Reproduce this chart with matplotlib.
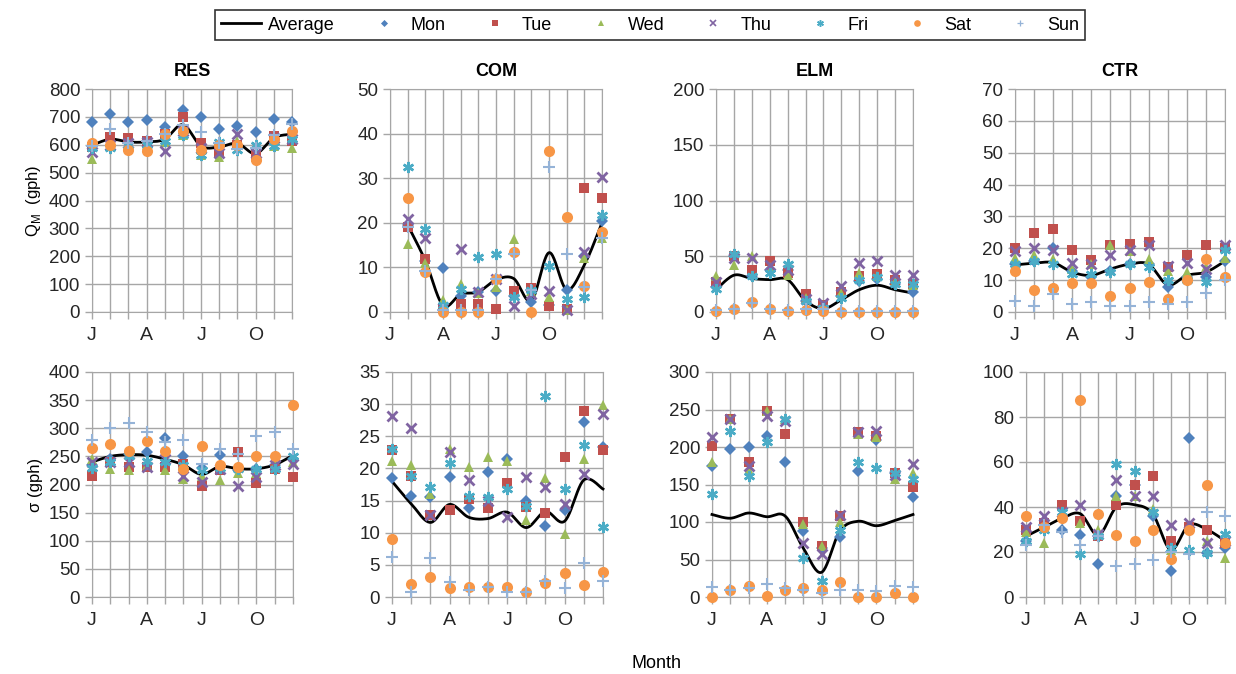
import numpy as np
import matplotlib
matplotlib.use("Agg")
import matplotlib.pyplot as plt
from matplotlib.lines import Line2D

plt.rcParams['font.family'] = ['Liberation Sans', 'DejaVu Sans']

months = np.arange(1, 13)
month_labels = ['J', '', '', 'A', '', '', 'J', '', '', 'O', '', '']
series = ['Average', 'Mon', 'Tue', 'Wed', 'Thu', 'Fri', 'Sat', 'Sun']

# rows: Average, Mon, Tue, Wed, Thu, Fri, Sat, Sun  (Jan..Dec)
res_q = [
    [598, 620, 610, 610, 620, 672, 595, 592, 605, 568, 625, 638],
    [680, 710, 680, 688, 665, 725, 698, 657, 667, 647, 693, 683],
    [592, 628, 625, 615, 640, 698, 605, 575, 600, 565, 632, 612],
    [548, 595, 600, 600, 610, 635, 565, 555, 615, 555, 595, 590],
    [575, 600, 605, 610, 578, 650, 590, 570, 640, 570, 625, 620],
    [590, 590, 600, 600, 615, 635, 565, 610, 580, 600, 595, 620],
    [605, 598, 580, 578, 640, 650, 580, 600, 600, 545, 620, 650],
    [595, 655, 605, 615, 640, 670, 645, 605, 585, 590, 635, 675],
]
com_q = [
    [19.5, 11.5, 1.5, 4.0, 4.5, 7.2, 7.5, 2.5, 13.3, 5.0, 10.5, 20.0],
    [19.5, 11.5, 9.8, 3.5, 4.5, 4.8, 3.5, 2.3, 1.5, 5.0, 12.5, 20.3],
    [19.0, 11.8, 0.9, 1.8, 1.7, 0.7, 4.8, 5.3, 1.3, 0.6, 27.7, 25.6],
    [15.3, 11.0, 2.8, 6.3, 4.3, 5.5, 16.3, 4.8, 3.3, 0.5, 12.0, 16.6],
    [20.8, 16.6, 0.9, 14.2, 4.5, 7.5, 1.3, 4.0, 4.8, 0.5, 13.4, 30.3],
    [32.6, 18.5, 1.5, 5.2, 12.3, 13.0, 3.3, 5.0, 10.3, 3.0, 3.3, 21.7],
    [25.6, 9.0, 0.0, 0.0, 0.0, 7.5, 13.4, 0.0, 36.0, 21.4, 5.8, 18.0],
    [19.0, 9.2, 0.5, 0.5, 0.5, 7.5, 12.9, 5.0, 32.5, 13.0, 5.5, 16.5],
]
elm_q = [
    [20, 33, 30, 29, 29, 10, 3, 11, 20, 24, 20, 17],
    [22, 50, 32, 38, 38, 10, 5, 14, 28, 30, 25, 18],
    [27, 50, 38, 46, 35, 16, 6, 18, 32, 34, 29, 25],
    [32, 42, 50, 40, 33, 13, 6, 17, 35, 32, 27, 24],
    [27, 48, 48, 42, 38, 12, 8, 23, 44, 46, 33, 33],
    [21, 52, 32, 35, 43, 10, 4, 13, 29, 31, 25, 25],
    [1, 3, 9, 3, 1, 2, 1, 0, 0, 0, 0, 0],
    [2, 3, 8, 3, 2, 3, 3, 1, 1, 1, 1, 1],
]
ctr_q = [
    [14.8, 15.3, 15.5, 12.5, 11.5, 13.5, 15.0, 15.0, 8.5, 11.5, 12.5, 16.0],
    [15.0, 16.0, 20.0, 13.0, 11.0, 13.0, 15.0, 15.0, 8.0, 11.0, 11.0, 16.0],
    [20.0, 24.8, 26.0, 19.5, 16.2, 21.0, 21.5, 22.0, 14.0, 18.0, 21.0, 20.0],
    [17.0, 18.0, 16.5, 13.5, 15.0, 21.0, 19.0, 16.5, 13.0, 12.5, 14.0, 17.0],
    [19.0, 20.0, 19.5, 15.5, 15.0, 18.0, 19.5, 21.0, 14.5, 15.5, 13.5, 21.0],
    [15.0, 16.0, 15.0, 12.0, 12.0, 12.5, 15.0, 14.0, 10.0, 10.0, 9.5, 19.5],
    [13.0, 7.0, 7.5, 9.0, 9.0, 5.0, 7.5, 9.5, 4.0, 10.0, 16.5, 11.0],
    [3.5, 2.0, 5.5, 2.5, 3.2, 2.0, 2.0, 3.2, 2.5, 3.0, 6.0, 10.0],
]
res_s = [
    [240, 250, 253, 252, 245, 235, 218, 232, 228, 228, 235, 252],
    [235, 245, 255, 258, 282, 250, 230, 253, 225, 228, 235, 245],
    [215, 240, 232, 232, 232, 237, 198, 225, 258, 203, 228, 213],
    [245, 228, 225, 235, 225, 210, 215, 208, 220, 220, 235, 240],
    [240, 240, 240, 232, 245, 215, 205, 228, 198, 213, 235, 237],
    [230, 240, 250, 242, 240, 235, 225, 230, 228, 228, 228, 250],
    [265, 272, 260, 277, 260, 227, 268, 235, 232, 250, 250, 342],
    [280, 300, 310, 293, 275, 280, 237, 263, 255, 287, 293, 263],
]
com_s = [
    [18.0, 14.5, 11.6, 14.4, 12.4, 12.2, 13.2, 10.8, 13.3, 11.8, 18.2, 16.8],
    [18.5, 15.7, 15.5, 18.7, 13.8, 19.4, 21.4, 15.0, 11.0, 13.6, 27.2, 23.4],
    [22.8, 18.8, 12.8, 13.5, 15.3, 13.8, 17.8, 14.0, 13.0, 21.8, 28.9, 22.8],
    [21.2, 20.5, 16.0, 23.0, 20.2, 21.8, 21.2, 12.0, 18.5, 9.8, 21.4, 29.8],
    [28.1, 26.3, 12.8, 22.6, 18.2, 15.0, 12.4, 18.6, 17.1, 14.5, 19.2, 28.4],
    [23.0, 18.9, 17.1, 20.9, 15.7, 15.5, 16.8, 14.2, 31.3, 16.8, 23.6, 10.9],
    [9.1, 2.0, 3.1, 1.4, 1.5, 1.6, 1.5, 0.8, 2.2, 3.8, 1.8, 3.9],
    [6.2, 0.8, 6.0, 2.3, 1.1, 1.6, 0.8, 0.8, 2.5, 1.4, 5.3, 2.5],
]
elm_s = [
    [110, 105, 112, 107, 108, 65, 33, 88, 101, 95, 102, 110],
    [175, 197, 200, 215, 180, 88, 65, 80, 168, 210, 165, 133],
    [202, 238, 180, 248, 217, 100, 68, 108, 220, 215, 165, 147],
    [180, 237, 170, 248, 238, 97, 68, 100, 217, 213, 158, 165],
    [213, 238, 175, 242, 235, 72, 58, 110, 220, 222, 163, 178],
    [137, 222, 162, 207, 237, 52, 22, 90, 180, 172, 165, 157],
    [0, 9, 15, 1, 9, 12, 9, 20, 0, 0, 6, 0],
    [14, 9, 12, 17, 12, 9, 6, 10, 10, 8, 15, 13],
]
ctr_s = [
    [27, 31, 35, 37, 27.5, 40, 41, 37, 21, 32, 30, 25],
    [25, 32, 30, 27.5, 14.5, 45, 50, 36, 11.5, 70.5, 19.5, 22],
    [30, 33, 41, 34, 27, 41, 50, 54, 25, 31, 30, 24],
    [29, 24, 36, 33, 30, 45, 45, 39, 21, 21, 25, 17.5],
    [31, 36, 38, 41, 28, 52, 45, 45, 32, 33, 24, 25],
    [25, 30, 38, 19, 27, 59, 56, 38, 22, 21, 19.5, 28],
    [36, 31, 35, 87.5, 37, 27.5, 25, 30, 17, 30, 50, 24],
    [23, 32, 29, 23, 27, 14, 14.5, 16.5, 20, 19, 38, 36],
]

colors = ['black', '#4F81BD', '#C0504D', '#9BBB59', '#8064A2',
          '#4BACC6', '#F79646', '#95B3D7']
markers = [None, 'D', 's', '^', 'x', (6, 2, 0), 'o', '+']
msizes = [0, 6, 7, 7.5, 7, 8, 8, 8]
mew = [0, 0, 0, 0, 2, 1.8, 0, 1.5]


def smooth(x, y, n=24):
    # Catmull-Rom curve through the points, like Excel's smoothed line
    x = np.asarray(x, float)
    y = np.asarray(y, float)
    px = np.concatenate([[x[0]], x, [x[-1]]])
    py = np.concatenate([[y[0]], y, [y[-1]]])
    t = np.linspace(0, 1, n, endpoint=False)[:, None]
    xs, ys = [], []
    for i in range(1, len(px) - 2):
        for p, out in ((px, xs), (py, ys)):
            p0, p1, p2, p3 = p[i - 1], p[i], p[i + 1], p[i + 2]
            c = 0.5 * (2 * p1 + (-p0 + p2) * t + (2 * p0 - 5 * p1 + 4 * p2 - p3) * t ** 2
                       + (-p0 + 3 * p1 - 3 * p2 + p3) * t ** 3)
            out.append(c.ravel())
    xs.append([x[-1]])
    ys.append([y[-1]])
    return np.concatenate(xs), np.concatenate(ys)


W, H = 1236, 674
fig = plt.figure(figsize=(W / 100, H / 100), dpi=100)


def rect(x0, x1, y0, y1):
    return [x0 / W, 1 - y1 / H, (x1 - x0) / W, (y1 - y0) / H]


# (data, rect, ymax, ystep, title, ylabel, start at zero)
panels = [
    (res_q, rect(92, 292, 89, 312), 800, 100, 'RES', 'Q$_\\mathregular{M}$  (gph)', False),
    (com_q, rect(390, 602, 89, 312), 50, 10, 'COM', None, True),
    (elm_q, rect(716, 913, 89, 312), 200, 50, 'ELM', None, False),
    (ctr_q, rect(1015, 1225, 89, 312), 70, 10, 'CTR', None, False),
    (res_s, rect(92, 293, 372, 597), 400, 50, None, 'σ (gph)', False),
    (com_s, rect(392, 603, 372, 597), 35, 5, None, None, False),
    (elm_s, rect(712, 913, 372, 597), 300, 50, None, None, False),
    (ctr_s, rect(1026, 1225, 372, 597), 100, 20, None, None, False),
]

grid_c = '#A6A6A6'
for data, r, ymax, ystep, title, ylabel, zero in panels:
    ax = fig.add_axes(r)
    if zero:
        ax.set_xlim(0, 12)
        ax.set_xticks(np.arange(0, 13))
        ax.set_xticklabels(month_labels + [''])
    else:
        ax.set_xlim(1, 12)
        ax.set_xticks(months)
        ax.set_xticklabels(month_labels)
    ax.set_ylim(0, ymax)
    ax.set_yticks(np.arange(0, ymax + ystep / 2, ystep))
    ax.grid(True, color=grid_c, linewidth=1)
    ax.set_axisbelow(True)
    for s in ax.spines.values():
        s.set_color(grid_c)
    ax.tick_params(colors=grid_c, labelcolor='#262626', labelsize=13.5,
                   length=5, width=1)
    ax.tick_params(axis='x', pad=6, labelsize=14)

    sx, sy = smooth(months, data[0])
    ax.plot(sx, sy, color='black', lw=2, zorder=3, clip_on=False)
    for i in range(1, 8):
        ax.plot(months, data[i], linestyle='none', marker=markers[i],
                color=colors[i], ms=msizes[i], mew=mew[i], zorder=4,
                clip_on=False)
    if title:
        ax.set_title(title, fontsize=13, fontweight='bold', pad=9)
    if ylabel:
        ax.set_ylabel(ylabel, fontsize=12, labelpad=4)

fig.text(0.531, 0.003, 'Month', fontsize=13, ha='center', va='bottom')

handles = [Line2D([], [], color='black', lw=2)]
for i in range(1, 8):
    handles.append(Line2D([], [], linestyle='none', marker=markers[i],
                          color=colors[i], ms=msizes[i] * 0.6,
                          mew=mew[i] * 0.6))
leg = fig.legend(handles, series, loc='upper center', ncol=8,
                 bbox_to_anchor=(0.526, 0.998), fontsize=13, frameon=True,
                 fancybox=False, edgecolor='black', handlelength=2.2,
                 columnspacing=1.6, handletextpad=0.4, borderpad=0.35)
leg.get_frame().set_linewidth(1.2)

fig.savefig('out.png', dpi=100)
